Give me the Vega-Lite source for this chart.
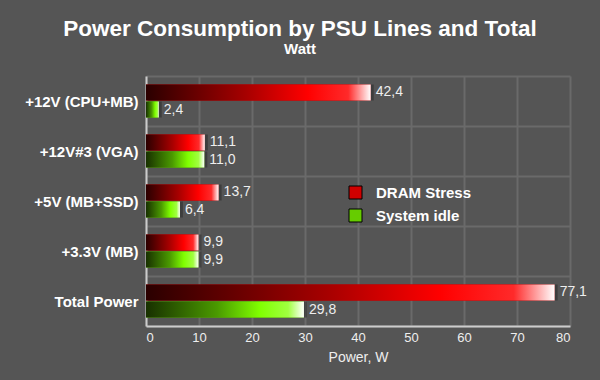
{
  "$schema": "https://vega.github.io/schema/vega-lite/v6.json",
  "width": 424,
  "height": 250,
  "autosize": {"type": "none"},
  "padding": {"left": 146, "top": 76, "right": 30, "bottom": 54},
  "background": "#555555",
  "config": {"view": {"stroke": null}, "font": "Liberation Sans"},
  "title": {
    "text": "Power Consumption by PSU Lines and Total",
    "subtitle": "Watt",
    "anchor": "middle",
    "frame": "group",
    "dx": -58,
    "offset": 12,
    "color": "#ffffff",
    "fontSize": 22.5,
    "fontWeight": "bold",
    "font": "Liberation Sans",
    "subtitleColor": "#ffffff",
    "subtitleFontSize": 15,
    "subtitleFontWeight": "bold",
    "subtitleFont": "Liberation Sans",
    "subtitlePadding": 2
  },
  "data": {
    "values": [
      {"line": "+12V (CPU+MB)", "series": "DRAM Stress", "value": 42.4, "label": "42,4"},
      {"line": "+12V (CPU+MB)", "series": "System idle", "value": 2.4, "label": "2,4"},
      {"line": "+12V#3 (VGA)", "series": "DRAM Stress", "value": 11.1, "label": "11,1"},
      {"line": "+12V#3 (VGA)", "series": "System idle", "value": 11.0, "label": "11,0"},
      {"line": "+5V (MB+SSD)", "series": "DRAM Stress", "value": 13.7, "label": "13,7"},
      {"line": "+5V (MB+SSD)", "series": "System idle", "value": 6.4, "label": "6,4"},
      {"line": "+3.3V (MB)", "series": "DRAM Stress", "value": 9.9, "label": "9,9"},
      {"line": "+3.3V (MB)", "series": "System idle", "value": 9.9, "label": "9,9"},
      {"line": "Total Power", "series": "DRAM Stress", "value": 77.1, "label": "77,1"},
      {"line": "Total Power", "series": "System idle", "value": 29.8, "label": "29,8"}
    ]
  },
  "encoding": {
    "y": {
      "field": "line",
      "type": "nominal",
      "sort": null,
      "scale": {"paddingInner": 0, "paddingOuter": 0},
      "axis": {
        "title": null,
        "grid": true,
        "tickBand": "extent",
        "gridColor": "#6a6a6a",
        "gridWidth": 2,
        "ticks": false,
        "domainColor": "#cccccc",
        "domainWidth": 2,
        "labelColor": "#ffffff",
        "labelFont": "Liberation Sans",
        "labelFontSize": 15,
        "labelFontWeight": "bold",
        "labelPadding": 8
      }
    },
    "yOffset": {
      "field": "series",
      "type": "nominal",
      "scale": {"domain": ["DRAM Stress", "System idle"], "paddingInner": 0.06, "paddingOuter": 0.5}
    },
    "x": {
      "field": "value",
      "type": "quantitative",
      "scale": {"domain": [0, 80], "nice": false},
      "axis": {
        "values": [0, 10, 20, 30, 40, 50, 60, 70, 80],
        "grid": true,
        "gridColor": "#6a6a6a",
        "gridWidth": 2,
        "ticks": false,
        "domainColor": "#cccccc",
        "domainWidth": 2,
        "labelColor": "#eeeeee",
        "labelFont": "Liberation Sans",
        "labelFontSize": 13,
        "labelPadding": 5,
        "title": "Power, W",
        "titleColor": "#eeeeee",
        "titleFont": "Liberation Sans",
        "titleFontSize": 14,
        "titleFontWeight": "normal",
        "titlePadding": 6
      }
    }
  },
  "layer": [
    {
      "mark": {"type": "bar", "fill": "#222222", "opacity": 0.45, "xOffset": 3, "yOffset": 3}
    },
    {
      "mark": {"type": "bar"},
      "encoding": {
        "color": {
          "field": "series",
          "type": "nominal",
          "scale": {"domain": ["DRAM Stress", "System idle"], "range": ["#d00000", "#66cc00"]},
          "legend": {
            "title": null,
            "orient": "none",
            "legendX": 202,
            "legendY": 109,
            "padding": 0,
            "symbolType": "square",
            "symbolSize": 169,
            "symbolStrokeColor": "#000000",
            "symbolStrokeWidth": 1,
            "labelColor": "#ffffff",
            "labelFont": "Liberation Sans",
            "labelFontSize": 15,
            "labelFontWeight": "bold",
            "labelOffset": 13,
            "rowPadding": 6
          }
        }
      }
    },
    {
      "transform": [{"filter": "datum.series === 'DRAM Stress'"}],
      "mark": {
        "type": "bar",
        "fill": {
          "gradient": "linear",
          "x1": 0, "y1": 0, "x2": 1, "y2": 0,
          "stops": [
            {"offset": 0, "color": "#2a0000"},
            {"offset": 0.45, "color": "#a80000"},
            {"offset": 0.72, "color": "#ff0000"},
            {"offset": 0.9, "color": "#ff2a2a"},
            {"offset": 1, "color": "#ffffff"}
          ]
        }
      }
    },
    {
      "transform": [{"filter": "datum.series === 'System idle'"}],
      "mark": {
        "type": "bar",
        "fill": {
          "gradient": "linear",
          "x1": 0, "y1": 0, "x2": 1, "y2": 0,
          "stops": [
            {"offset": 0, "color": "#183000"},
            {"offset": 0.45, "color": "#4a9a00"},
            {"offset": 0.72, "color": "#80ff00"},
            {"offset": 0.9, "color": "#a0ff40"},
            {"offset": 1, "color": "#ffffff"}
          ]
        }
      }
    },
    {
      "mark": {"type": "text", "align": "left", "baseline": "middle", "dx": 5, "color": "#eeeeee", "fontSize": 14, "font": "Liberation Sans"},
      "encoding": {"text": {"field": "label"}}
    }
  ]
}
